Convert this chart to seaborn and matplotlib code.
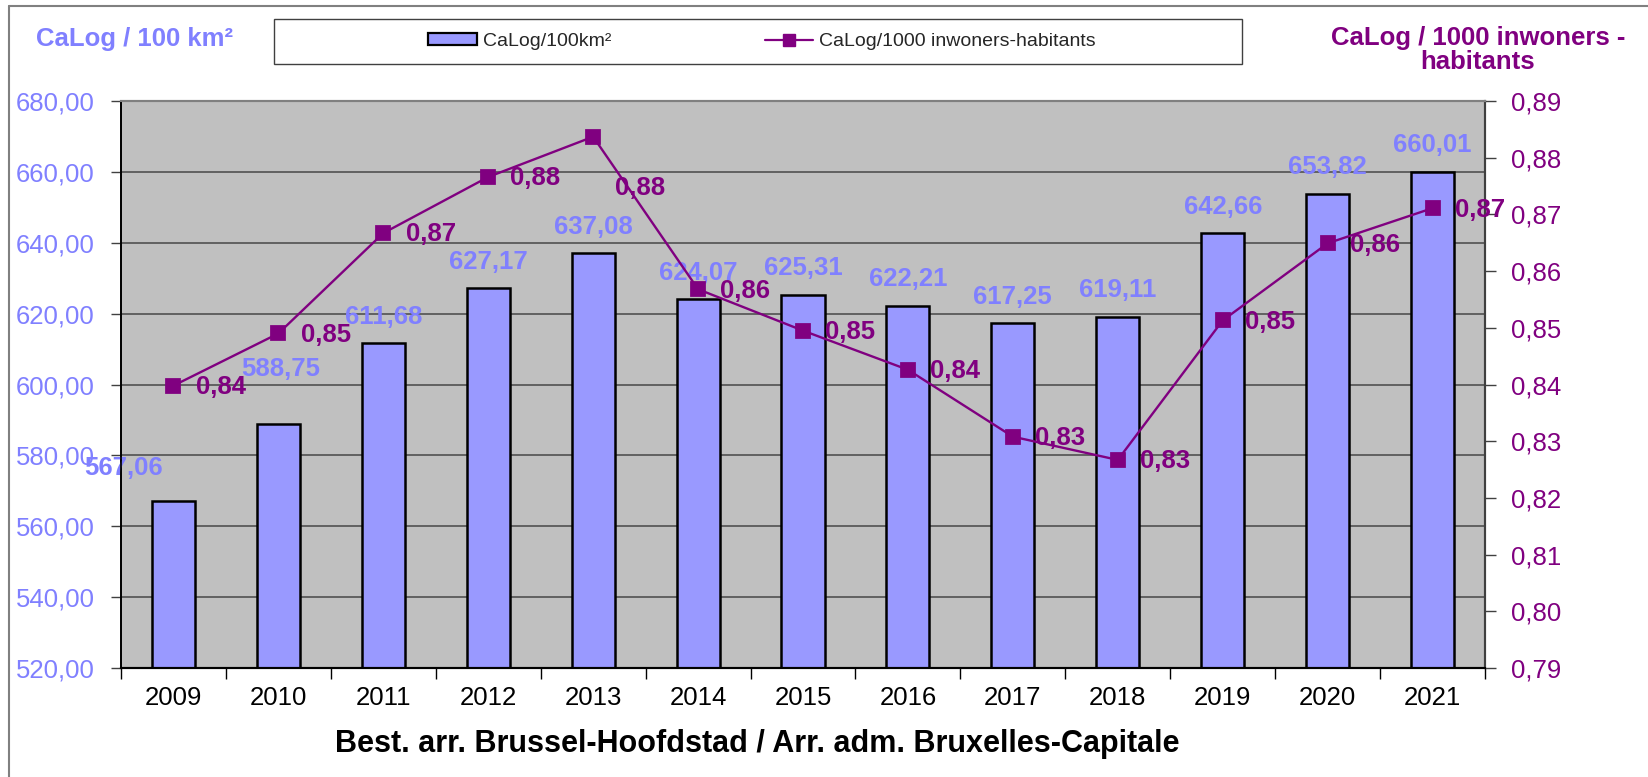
import matplotlib
matplotlib.use("Agg")
import matplotlib.pyplot as plt
import seaborn as sns
import pandas as pd
import numpy as np
from matplotlib.ticker import FuncFormatter
from matplotlib.lines import Line2D
from matplotlib.patches import Patch, Rectangle

# ---------------- data ----------------
years = ['2009', '2010', '2011', '2012', '2013', '2014', '2015',
         '2016', '2017', '2018', '2019', '2020', '2021']
calog_per_100km2 = [567.06, 588.75, 611.68, 627.17, 637.08, 624.07, 625.31,
                    622.21, 617.25, 619.11, 642.66, 653.82, 660.01]
calog_per_1000_inh = [0.8398, 0.8490, 0.8667, 0.8766, 0.8837, 0.8568, 0.8495,
                      0.8426, 0.8308, 0.8267, 0.8513, 0.8649, 0.8711]
left_ticks = [520, 540, 560, 580, 600, 620, 640, 660, 680]
right_ticks = [0.79, 0.80, 0.81, 0.82, 0.83, 0.84, 0.85, 0.86, 0.87, 0.88, 0.89]
series_bar_name = 'CaLog/100km²'
series_line_name = 'CaLog/1000 inwoners-habitants'
left_title = 'CaLog / 100 km²'
right_title = 'CaLog / 1000 inwoners -\nhabitants'
x_title = 'Best. arr. Brussel-Hoofdstad / Arr. adm. Bruxelles-Capitale'

# ---------------- style ----------------
BAR = '#9999FF'
BARTXT = '#8080FF'
PURPLE = '#800080'
W, H = 1648, 777

sns.set_theme(style='ticks')
plt.rcParams['font.family'] = ['Liberation Sans', 'DejaVu Sans']

def comma(v, d=2):
    return f"{v:.{d}f}".replace('.', ',')

df = pd.DataFrame({'year': years, 'density': calog_per_100km2,
                   'per_inh': calog_per_1000_inh})

fig = plt.figure(figsize=(W / 100, H / 100), dpi=100)
L, R, T, B = 121, 1485, 101, 668
ax = fig.add_axes([L / W, 1 - B / H, (R - L) / W, (B - T) / H])
ax.set_facecolor('#C0C0C0')

sns.barplot(data=df, x='year', y='density', ax=ax, color=BAR, saturation=1,
            edgecolor='black', linewidth=1.8, width=0.41, zorder=2)
ax.set_ylim(520, 680)
ax.set_yticks(left_ticks)
ax.yaxis.set_major_formatter(FuncFormatter(lambda v, p: comma(v)))
ax.yaxis.grid(True, color='#5a5a5a', linewidth=1.3)
ax.set_axisbelow(True)
ax.set_xlabel('')
ax.set_ylabel('')

# line on secondary axis
ax2 = ax.twinx()
sns.pointplot(data=df, x='year', y='per_inh', ax=ax2, color=PURPLE,
              markers='s', markersize=10, linewidth=1.7, errorbar=None)
ax2.set_ylim(0.79, 0.89)
ax2.set_yticks(right_ticks)
ax2.yaxis.set_major_formatter(FuncFormatter(lambda v, p: comma(v)))
ax2.set_ylabel('')
ax2.set_xlabel('')

ax.set_xlim(-0.5, len(years) - 0.5)
ax.set_xticks(range(len(years)))
ax.set_xticklabels(years)
ax.set_xticks(np.arange(-0.5, len(years), 1.0), minor=True)
ax.tick_params(axis='x', which='major', length=0, pad=13, labelsize=18.5,
               labelcolor='black', bottom=True)
ax.tick_params(axis='x', which='minor', length=8, width=1, color='black',
               direction='out', bottom=True)
ax.tick_params(axis='y', which='major', length=7, width=1, color='#404040',
               direction='out', pad=12, labelsize=18.5, labelcolor=BARTXT,
               left=True)
ax2.tick_params(axis='y', which='major', length=8, width=1, color='#404040',
                direction='out', pad=11, labelsize=18.5, labelcolor=PURPLE,
                right=True)

for a in (ax, ax2):
    a.spines['top'].set_color('#808080')
    a.spines['top'].set_linewidth(1.5)
    a.spines['left'].set_color('black')
    a.spines['bottom'].set_color('black')
    a.spines['bottom'].set_linewidth(1.5)
    a.spines['right'].set_color('#404040')
    a.spines['right'].set_linewidth(1.5)

# bar value labels
bar_offsets = {0: (-36, 24), 1: (2, 40)}
for i, v in enumerate(calog_per_100km2):
    dx, dy = bar_offsets.get(i, (0, 19))
    ax.annotate(comma(v), (i, v), xytext=(dx, dy), textcoords='offset points',
                ha='center', va='center', fontsize=18.5, fontweight='bold',
                color=BARTXT, zorder=3)

# line value labels
line_offsets = {4: (16, -37)}
for i, v in enumerate(calog_per_1000_inh):
    dx, dy = line_offsets.get(i, (16, -1))
    ax2.annotate(comma(v), (i, v), xytext=(dx, dy), textcoords='offset points',
                 ha='left', va='center', fontsize=18.5, fontweight='bold',
                 color=PURPLE, zorder=6)

# axis titles
fig.text(135 / W, 1 - 39 / H, left_title, ha='center', va='center',
         fontsize=18.5, fontweight='bold', color=BARTXT)
fig.text(1478 / W, 1 - 50 / H, right_title, ha='center', va='center',
         fontsize=18.5, fontweight='bold', color=PURPLE, linespacing=1.0,
         multialignment='center')
fig.text(757 / W, 1 - 752 / H, x_title, ha='center', va='baseline',
         fontsize=22, fontweight='bold', color='black')

# legend with its own frame
fig.add_artist(Rectangle((274 / W, 1 - 64 / H), (1241.5 - 274) / W, 45 / H,
                         transform=fig.transFigure, fill=False,
                         edgecolor='#404040', linewidth=1.0))
handles = [Patch(facecolor=BAR, edgecolor='black', linewidth=1.6),
           Line2D([], [], color=PURPLE, marker='s', markersize=8, linewidth=1.6)]
fig.legend(handles, [series_bar_name, series_line_name], loc='center',
           bbox_to_anchor=(762 / W, 1 - 41.5 / H), ncol=2, frameon=False,
           fontsize=14, handlelength=2.5, handleheight=0.55,
           handletextpad=0.3, columnspacing=7.9)

# outer figure border (top and left visible)
fig.add_artist(Line2D([9 / W, 1], [1 - 6 / H, 1 - 6 / H], transform=fig.transFigure,
                      color='#808080', linewidth=1.5))
fig.add_artist(Line2D([9 / W, 9 / W], [0, 1 - 6 / H], transform=fig.transFigure,
                      color='#808080', linewidth=1.5))

fig.savefig('out.png', dpi=100)
